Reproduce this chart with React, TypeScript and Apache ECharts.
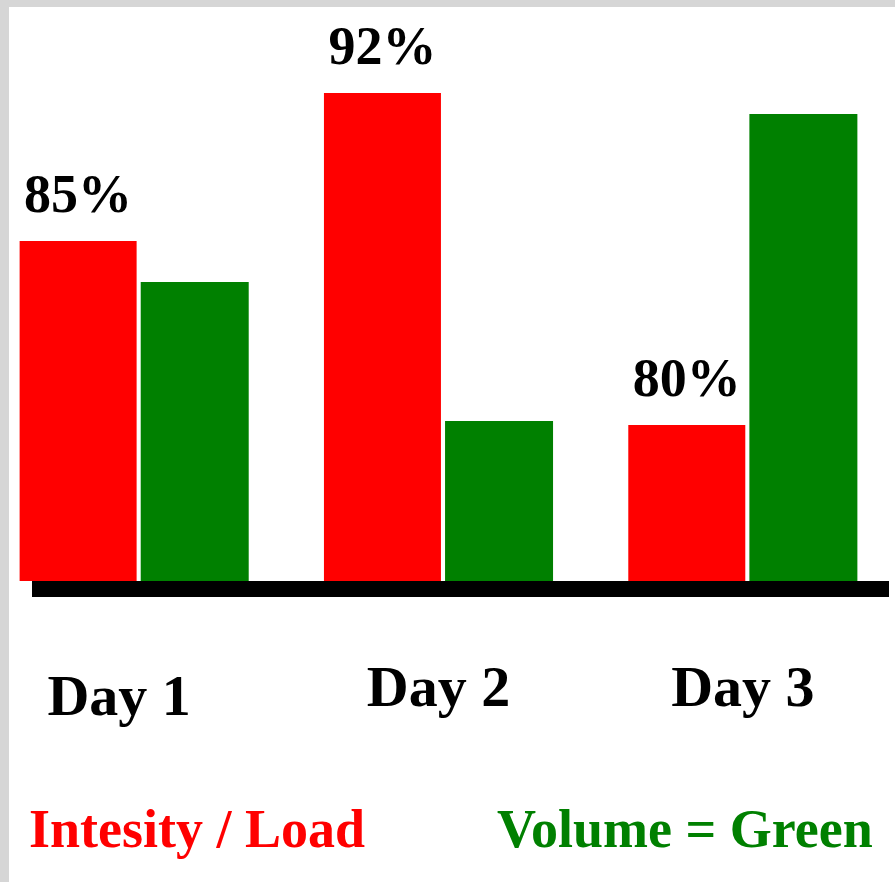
import React, { useEffect, useRef } from "react";
import * as echarts from "echarts";

const days = ["Day 1", "Day 2", "Day 3"];
const intensity = [68, 97.6, 31.2];
const volume = [59.8, 32, 93.4];
const intensityLabels = ["85%", "92%", "80%"];
const seriesNames = ["Intesity / Load", "Volume = Green"];

const RED = "#ff0000";
const GREEN = "#008000";
const FONT = "'Liberation Serif', 'Times New Roman', serif";
const SHIFT = 18; // chart div starts 18px left of the page edge

export default function App() {
  const ref = useRef<HTMLDivElement>(null);

  useEffect(() => {
    if (!ref.current) return;
    const chart = echarts.init(ref.current, undefined, { renderer: "svg" });
    chart.setOption({
      animation: false,
      backgroundColor: "#d6d6d6",
      graphic: [
        {
          type: "rect",
          left: 9 + SHIFT,
          top: 7,
          z: 0,
          shape: { width: 886, height: 875 },
          style: { fill: "#ffffff" },
        },
      ],
      grid: [
        { left: 0, right: 0, top: 81, bottom: 301 },
        { left: 32 + SHIFT, right: 6, top: 81, bottom: 301 },
      ],
      xAxis: [
        {
          type: "category",
          gridIndex: 0,
          data: days,
          axisLine: { show: false },
          axisTick: { show: false },
          axisLabel: {
            interval: 0,
            margin: 76,
            fontSize: 58,
            fontWeight: "bold",
            color: "#000",
            fontFamily: FONT,
            formatter: (v: string, i: number) => (i === 0 ? `{first|${v}}` : v),
            rich: {
              first: {
                fontSize: 58,
                fontWeight: "bold",
                color: "#000",
                fontFamily: FONT,
                padding: [9, 30, 0, 0],
              },
            },
          },
        },
        {
          type: "category",
          gridIndex: 1,
          data: days,
          offset: 8,
          axisLine: {
            show: true,
            onZero: false,
            lineStyle: { color: "#000", width: 16, cap: "butt" },
          },
          axisTick: { show: false },
          axisLabel: { show: false },
        },
      ],
      yAxis: [
        { type: "value", gridIndex: 0, min: 0, max: 100, show: false },
        { type: "value", gridIndex: 1, min: 0, max: 100, show: false },
      ],
      legend: [
        {
          data: [{ name: seriesNames[0], textStyle: { color: RED } }],
          left: 19 + SHIFT,
          top: 797,
          itemWidth: 0,
          itemHeight: 0,
          selectedMode: false,
          textStyle: { fontSize: 54, fontWeight: "bold", fontFamily: FONT, color: RED },
        },
        {
          data: [{ name: seriesNames[1], textStyle: { color: GREEN } }],
          left: 487 + SHIFT,
          top: 797,
          itemWidth: 0,
          itemHeight: 0,
          selectedMode: false,
          textStyle: { fontSize: 54, fontWeight: "bold", fontFamily: FONT, color: GREEN },
        },
      ],
      series: [
        {
          name: seriesNames[0],
          type: "bar",
          xAxisIndex: 0,
          yAxisIndex: 0,
          data: intensity,
          barWidth: 117,
          barGap: "3.5%",
          itemStyle: { color: RED },
          label: {
            show: true,
            position: "top",
            distance: 20,
            fontSize: 54,
            fontWeight: "bold",
            fontFamily: FONT,
            color: "#000",
            formatter: (p: any) => intensityLabels[p.dataIndex],
          },
        },
        {
          name: seriesNames[1],
          type: "bar",
          xAxisIndex: 0,
          yAxisIndex: 0,
          data: volume,
          barWidth: 108,
          itemStyle: { color: GREEN },
        },
      ],
    });
    return () => chart.dispose();
  }, []);

  return (
    <div
      ref={ref}
      style={{ position: "absolute", left: -SHIFT, top: 0, width: 895 + SHIFT, height: 882 }}
    />
  );
}
